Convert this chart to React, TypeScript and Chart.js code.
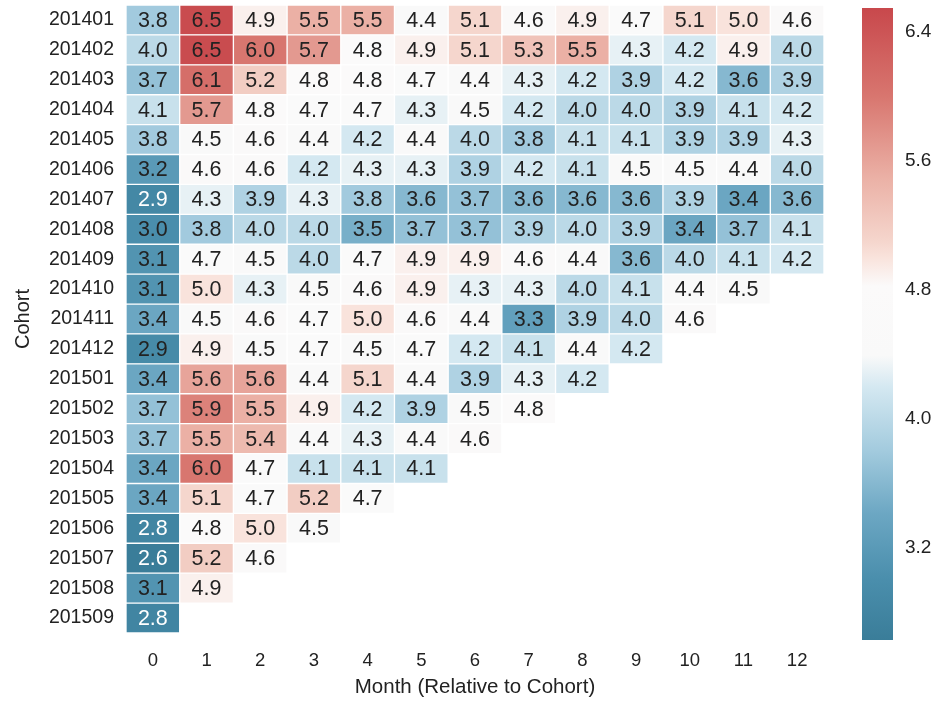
import React, { useEffect, useRef } from "react";
import { Chart, registerables } from "chart.js";

Chart.register(...registerables);

const FONT = "'Liberation Sans', Arial, Helvetica, sans-serif";
const TEXT = "#222222";

const cohorts = [
  "201401", "201402", "201403", "201404", "201405", "201406", "201407",
  "201408", "201409", "201410", "201411", "201412", "201501", "201502",
  "201503", "201504", "201505", "201506", "201507", "201508", "201509",
];
const months = [0, 1, 2, 3, 4, 5, 6, 7, 8, 9, 10, 11, 12];

const r201401 = [3.8, 6.5, 4.9, 5.5, 5.5, 4.4, 5.1, 4.6, 4.9, 4.7, 5.1, 5.0, 4.6];
const r201402 = [4.0, 6.5, 6.0, 5.7, 4.8, 4.9, 5.1, 5.3, 5.5, 4.3, 4.2, 4.9, 4.0];
const r201403 = [3.7, 6.1, 5.2, 4.8, 4.8, 4.7, 4.4, 4.3, 4.2, 3.9, 4.2, 3.6, 3.9];
const r201404 = [4.1, 5.7, 4.8, 4.7, 4.7, 4.3, 4.5, 4.2, 4.0, 4.0, 3.9, 4.1, 4.2];
const r201405 = [3.8, 4.5, 4.6, 4.4, 4.2, 4.4, 4.0, 3.8, 4.1, 4.1, 3.9, 3.9, 4.3];
const r201406 = [3.2, 4.6, 4.6, 4.2, 4.3, 4.3, 3.9, 4.2, 4.1, 4.5, 4.5, 4.4, 4.0];
const r201407 = [2.87, 4.3, 3.9, 4.3, 3.8, 3.6, 3.7, 3.6, 3.6, 3.6, 3.9, 3.4, 3.6];
const r201408 = [3.0, 3.8, 4.0, 4.0, 3.5, 3.7, 3.7, 3.9, 4.0, 3.9, 3.4, 3.7, 4.1];
const r201409 = [3.1, 4.7, 4.5, 4.0, 4.7, 4.9, 4.9, 4.6, 4.4, 3.6, 4.0, 4.1, 4.2];
const r201410 = [3.1, 5.0, 4.3, 4.5, 4.6, 4.9, 4.3, 4.3, 4.0, 4.1, 4.4, 4.5];
const r201411 = [3.4, 4.5, 4.6, 4.7, 5.0, 4.6, 4.4, 3.3, 3.9, 4.0, 4.6];
const r201412 = [2.93, 4.9, 4.5, 4.7, 4.5, 4.7, 4.2, 4.1, 4.4, 4.2];
const r201501 = [3.4, 5.6, 5.6, 4.4, 5.1, 4.4, 3.9, 4.3, 4.2];
const r201502 = [3.7, 5.9, 5.5, 4.9, 4.2, 3.9, 4.5, 4.8];
const r201503 = [3.7, 5.5, 5.4, 4.4, 4.3, 4.4, 4.6];
const r201504 = [3.4, 6.0, 4.7, 4.1, 4.1, 4.1];
const r201505 = [3.4, 5.1, 4.7, 5.2, 4.7];
const r201506 = [2.8, 4.8, 5.0, 4.5];
const r201507 = [2.63, 5.2, 4.6];
const r201508 = [3.1, 4.9];
const r201509 = [2.8];

const table: number[][] = [
  r201401, r201402, r201403, r201404, r201405, r201406, r201407,
  r201408, r201409, r201410, r201411, r201412, r201501, r201502,
  r201503, r201504, r201505, r201506, r201507, r201508, r201509,
];

const colorbarTicks = [3.2, 4.0, 4.8, 5.6, 6.4];
const vMin = 2.63;
const vMax = 6.55;

// colormap stops: position (0..1) and colour
const cmapPos = [0.0, 0.1, 0.2, 0.3, 0.4, 0.45, 0.56, 0.605, 0.63, 0.73, 0.86, 1.0];
const cmapCol = [
  "#3a7d99", "#4b8fad", "#6ca7c3", "#a3cbde", "#d4e8f1", "#f9f9f9",
  "#fbfafa", "#f9e3dc", "#f5d6cd", "#ebb1a6", "#d8766f", "#c8484c",
];

function hexToRgb(h: string) {
  const n = parseInt(h.slice(1), 16);
  return [(n >> 16) & 255, (n >> 8) & 255, n & 255];
}

function colorFor(v: number) {
  let t = (v - vMin) / (vMax - vMin);
  t = Math.max(0, Math.min(1, t));
  for (let i = 0; i < cmapPos.length - 1; i++) {
    if (t <= cmapPos[i + 1]) {
      const f = (t - cmapPos[i]) / (cmapPos[i + 1] - cmapPos[i]);
      const a = hexToRgb(cmapCol[i]);
      const b = hexToRgb(cmapCol[i + 1]);
      const c = a.map((x, k) => Math.round(x + (b[k] - x) * f));
      return `rgb(${c[0]},${c[1]},${c[2]})`;
    }
  }
  return cmapCol[cmapCol.length - 1];
}

const cellValue = (r: number, m: number): number | null => {
  const v = table[r][m];
  return v === undefined ? null : v;
};

const annotatePlugin = {
  id: "cellAnnotations",
  afterDatasetsDraw(chart: any) {
    const ctx = chart.ctx;
    ctx.save();
    ctx.font = `21.5px ${FONT}`;
    ctx.textAlign = "center";
    ctx.textBaseline = "middle";
    chart.data.datasets.forEach((_ds: any, di: number) => {
      const meta = chart.getDatasetMeta(di);
      meta.data.forEach((el: any, r: number) => {
        const v = cellValue(r, months[di]);
        if (v === null) return;
        const p = el.getCenterPoint();
        ctx.fillStyle = v < 2.9 ? "#ffffff" : TEXT;
        ctx.fillText(v.toFixed(1), p.x, p.y + 1);
      });
    });
    ctx.restore();
  },
};

export default function App() {
  const mainRef = useRef<HTMLCanvasElement>(null);
  const barRef = useRef<HTMLCanvasElement>(null);

  useEffect(() => {
    document.body.style.margin = "0";
    Chart.defaults.font.family = FONT;
    Chart.defaults.color = TEXT;

    const datasets = months.map((m) => ({
      label: String(m),
      data: cohorts.map((_, r) => (cellValue(r, m) !== null ? [m - 0.5, m + 0.5] : null)),
      backgroundColor: cohorts.map((_, r) => {
        const v = cellValue(r, m);
        return v !== null ? colorFor(v) : "rgba(0,0,0,0)";
      }),
      borderColor: "#ffffff",
      borderWidth: 1,
      borderSkipped: false,
      grouped: false,
      barPercentage: 1,
      categoryPercentage: 1,
    }));

    const main = new Chart(mainRef.current!, {
      type: "bar",
      data: { labels: cohorts, datasets: datasets as any },
      plugins: [annotatePlugin],
      options: {
        animation: false,
        responsive: false,
        indexAxis: "y",
        layout: { padding: { top: 5, right: 26, left: 0, bottom: 0 } },
        plugins: { legend: { display: false }, tooltip: { enabled: false } },
        scales: {
          x: {
            type: "linear",
            min: -0.5,
            max: 12.5,
            grid: { display: false, drawTicks: false },
            border: { display: false },
            afterBuildTicks: (scale: any) => {
              scale.ticks = months.map((v) => ({ value: v }));
            },
            afterFit: (scale: any) => {
              scale.height = 71;
              scale.paddingLeft = 0;
              scale.paddingRight = 0;
            },
            ticks: {
              padding: 17,
              autoSkip: false,
              maxRotation: 0,
              font: { size: 18.5 },
              color: TEXT,
              callback: (v: any) => String(v),
            },
            title: {
              display: true,
              text: "Month (Relative to Cohort)",
              font: { size: 20.5 },
              color: TEXT,
              padding: { top: 2, bottom: 4 },
            },
          },
          y: {
            type: "category",
            grid: { display: false, drawTicks: false },
            border: { display: false },
            afterFit: (scale: any) => {
              scale.width = 126;
              scale.paddingTop = 0;
              scale.paddingBottom = 0;
            },
            ticks: { padding: 12, autoSkip: false, font: { size: 19.5 }, color: TEXT },
            title: {
              display: true,
              text: "Cohort",
              font: { size: 20 },
              color: TEXT,
              padding: { top: 11, bottom: 0 },
            },
          },
        },
      },
    } as any);

    const bar = new Chart(barRef.current!, {
      type: "bar",
      data: {
        labels: ["scale"],
        datasets: [
          {
            data: [[vMin, vMax]],
            backgroundColor: (c: any) => {
              const area = c.chart.chartArea;
              if (!area) return cmapCol[0];
              const g = c.chart.ctx.createLinearGradient(0, area.bottom, 0, area.top);
              cmapPos.forEach((p, i) => g.addColorStop(p, cmapCol[i]));
              return g;
            },
            borderWidth: 0,
            barPercentage: 1,
            categoryPercentage: 1,
          },
        ],
      },
      options: {
        animation: false,
        responsive: false,
        layout: { padding: { top: 8, bottom: 64, left: 0, right: 0 } },
        plugins: { legend: { display: false }, tooltip: { enabled: false } },
        scales: {
          x: { display: false },
          y: {
            position: "right",
            min: vMin,
            max: vMax,
            grid: { display: false, drawTicks: false },
            border: { display: false },
            afterBuildTicks: (scale: any) => {
              scale.ticks = colorbarTicks.map((v) => ({ value: v }));
            },
            afterFit: (scale: any) => {
              scale.width = 46;
              scale.paddingTop = 0;
              scale.paddingBottom = 0;
            },
            ticks: {
              padding: 12,
              autoSkip: false,
              font: { size: 19 },
              color: TEXT,
              callback: (v: any) => Number(v).toFixed(1),
            },
          },
        },
      },
    } as any);

    return () => {
      main.destroy();
      bar.destroy();
    };
  }, []);

  return (
    <div style={{ position: "relative", width: 939, height: 704, background: "#ffffff" }}>
      <canvas
        ref={mainRef}
        width={850}
        height={704}
        style={{ position: "absolute", left: 0, top: 0, width: 850, height: 704 }}
      />
      <canvas
        ref={barRef}
        width={77}
        height={704}
        style={{ position: "absolute", left: 862, top: 0, width: 77, height: 704 }}
      />
    </div>
  );
}
